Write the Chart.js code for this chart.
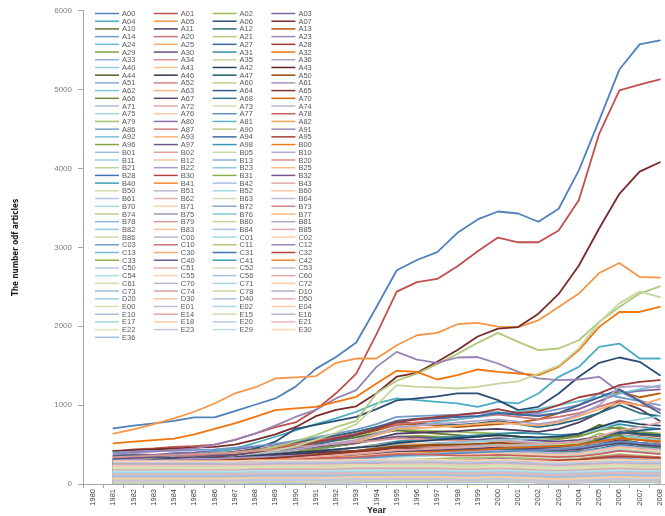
<!DOCTYPE html>
<html>
<head>
<meta charset="utf-8">
<script src="https://cdn.jsdelivr.net/npm/chart.js@4/dist/chart.umd.min.js"></script>
<style>
  html, body { margin: 0; padding: 0; background: #ffffff; overflow: hidden; }
  #wrap { position: relative; width: 676px; height: 516px; }
</style>
</head>
<body>
<div id="wrap"><canvas id="chart" width="676" height="516"></canvas></div>
<script>
// Publication years on the category axis (1980 has no counts)
const years = ['1980','1981','1982','1983','1984','1985','1986','1987','1988','1989','1990',
  '1991','1992','1993','1994','1995','1996','1997','1998','1999','2000',
  '2001','2002','2003','2004','2005','2006','2007','2008'];

// Subject codes, in legend order
const codesA = ['A00','A01','A02','A03','A04','A05','A06','A07','A10','A11','A12','A13',
  'A14','A20','A21','A23','A24','A25','A27','A28','A29','A30','A31','A32','A33','A34','A35','A36',
  'A40','A41','A42','A43','A44','A46','A47','A50','A51','A52','A60','A61','A62','A63','A64','A65',
  'A66','A67','A68','A70','A71','A72','A73','A74','A75','A76','A77','A78','A79','A80','A81','A82',
  'A86','A87','A90','A91','A92','A93','A94','A95','A96','A97','A98'];
const codesB = ['B00','B01','B02','B05','B10','B11','B12','B13','B20','B21','B22','B23','B25','B28',
  'B30','B31','B32','B40','B41','B42','B43','B50','B51','B52','B60','B61','B62','B63','B64',
  'B70','B71','B72','B73','B74','B75','B76','B77','B78','B79','B80','B81','B82','B83','B84','B85','B86'];
const codesC = ['C00','C01','C02','C03','C10','C11','C12','C13','C30','C31','C32','C33','C40','C41','C42',
  'C50','C51','C52','C53','C54','C55','C56','C60','C61','C70','C71','C72','C73','C74','C78'];
const codesDE = ['D10','D20','D30','D40','D50','E00','E01','E02','E04','E10','E14','E15','E16','E17',
  'E18','E20','E21','E22','E23','E29','E30','E36'];

// Number of articles per year, 1981-2008, one row per code
const valuesA = [
  [705,740,770,800,845,845,925,1005,1085,1235,1460,1610,1795,2245,2710,2840,2940,3185,3355,3455,3430,3325,3490,3980,4610,5255,5575,5625],
  [410,440,450,470,480,500,560,640,720,780,940,1150,1400,1900,2440,2560,2600,2760,2950,3125,3065,3065,3215,3600,4440,4990,5065,5130],
  [280,290,300,320,340,360,380,410,440,480,520,560,600,650,700,680,670,660,650,640,600,560,500,520,640,600,430,420],
  [360,380,370,390,400,420,440,470,500,540,580,620,660,720,800,820,830,850,860,900,880,870,900,950,1050,1150,1180,1200],
  [320,330,340,360,380,410,450,520,599,680,760,831,916,1021,1085,1063,1042,1021,979,1042,1021,1148,1359,1485,1739,1781,1591,1591],
  [640,692,760,831,916,1021,1148,1224,1338,1352,1367,1536,1591,1591,1760,1886,1916,2026,2042,1995,1990,2076,2245,2414,2675,2802,2625,2617],
  [300,310,320,330,350,370,400,450,536,700,750,800,850,950,1060,1085,1110,1148,1148,1063,937,979,1148,1359,1536,1604,1549,1380],
  [420,430,440,450,460,470,500,560,630,720,860,940,985,1150,1360,1410,1550,1700,1870,1970,1990,2160,2410,2770,3240,3680,3960,4080],
  [300,290,300,310,330,350,370,400,430,470,510,550,590,640,680,660,640,620,600,620,600,580,580,620,750,700,640,620],
  [200,210,220,240,260,280,300,330,360,400,440,480,520,580,640,650,660,670,690,700,680,660,700,780,900,1050,950,800],
  [350,360,350,370,380,390,410,440,470,520,570,610,660,720,780,770,760,750,770,800,760,720,760,820,900,1000,900,860],
  [280,300,310,330,350,370,400,430,460,500,540,580,620,680,750,760,740,720,740,760,780,820,900,1000,1100,1170,1100,1150],
  [400,410,420,420,430,440,460,480,510,550,590,640,690,760,850,860,870,880,900,910,880,900,950,1000,1150,1100,1050,1000],
  [300,310,330,340,360,380,400,430,470,510,550,590,640,700,760,780,800,820,850,880,850,820,850,900,980,1060,1000,950],
  [300,310,320,330,340,360,380,420,470,540,620,720,800,1150,1310,1400,1520,1650,1790,1916,1802,1697,1718,1823,2055,2245,2414,2507],
  [380,400,410,430,450,500,560,640,740,850,940,1085,1190,1485,1675,1578,1536,1604,1610,1528,1422,1338,1317,1325,1359,1169,1063,937],
  [150,160,170,190,210,230,260,290,330,380,430,480,540,620,700,740,780,820,850,900,920,950,1000,1050,1100,1150,1200,1250],
  [180,190,200,220,240,260,290,320,360,400,440,490,540,620,700,710,720,740,760,780,760,740,780,860,950,1030,1000,1080],
  [220,240,250,270,280,300,330,360,400,450,500,560,620,700,800,830,840,850,860,900,880,860,900,1000,1100,1200,1050,900],
  [250,260,280,300,320,340,370,400,440,480,530,580,630,700,780,820,850,873,900,950,900,920,1000,1100,1150,1253,1295,1317],
  [260,280,270,290,300,310,330,350,380,410,450,480,520,560,600,610,600,590,600,620,600,580,570,600,680,720,660,640],
  [320,330,340,330,340,360,370,390,410,440,470,500,520,560,600,590,580,570,560,580,570,550,540,560,600,650,620,600],
  [200,210,230,240,250,270,290,310,340,370,400,430,460,500,540,560,580,600,620,640,650,640,620,640,700,760,720,700],
  [515,536,557,575,630,700,768,852,937,958,979,1042,1105,1274,1435,1422,1325,1380,1452,1422,1401,1380,1485,1697,1992,2181,2181,2245],
  [180,190,200,210,220,240,260,280,300,330,360,390,420,460,500,510,520,530,540,560,540,520,510,520,560,600,560,540],
  [340,350,360,370,380,390,400,420,440,470,490,510,530,550,580,570,560,550,540,550,530,510,500,520,560,620,580,560],
  [250,260,270,280,300,320,340,380,420,480,560,650,760,1000,1253,1232,1224,1211,1232,1274,1300,1400,1500,1720,2050,2290,2440,2370],
  [250,260,270,280,300,320,340,370,400,440,480,520,560,640,720,740,760,780,800,820,790,760,800,880,1000,1230,1240,1230],
  [150,160,170,180,200,220,240,260,290,320,350,380,410,450,490,500,510,520,540,560,570,580,600,640,700,780,820,860],
  [240,250,260,280,290,300,320,340,370,400,420,440,460,490,520,510,500,490,500,520,510,490,480,500,560,640,600,580],
  [300,300,310,320,320,330,340,360,380,400,420,440,460,480,520,540,560,580,600,620,600,590,600,640,720,800,760,740],
  [220,230,220,230,240,250,270,290,310,330,350,380,400,430,460,470,480,470,460,480,470,450,440,460,520,560,520,500],
  [130,140,150,160,170,190,210,230,260,290,320,350,380,420,460,470,480,490,500,520,510,500,490,510,570,620,590,570],
  [280,290,300,300,310,320,330,340,360,380,400,410,420,440,460,450,440,430,420,430,420,400,390,400,440,480,450,430],
  [190,200,210,220,230,240,260,280,300,320,340,360,390,420,450,440,430,420,420,440,460,480,500,540,600,660,640,620],
  [260,270,280,290,290,300,310,320,340,360,380,400,420,450,480,490,500,500,510,520,500,480,460,470,500,540,500,480],
  [160,170,180,190,200,210,230,250,270,290,310,330,350,380,410,420,430,440,450,470,460,450,440,460,520,580,560,540],
  [230,240,250,250,260,270,280,300,320,340,360,380,400,420,450,460,470,480,490,500,480,460,450,470,540,600,560,520],
  [120,130,140,150,160,180,200,220,240,260,290,320,350,380,420,430,440,450,460,480,490,500,500,520,560,600,580,560],
  [300,310,300,310,320,320,330,340,350,360,370,380,390,400,420,410,400,390,380,390,380,370,360,370,400,430,410,400],
  [170,180,190,200,210,220,240,260,280,300,320,340,360,390,420,430,440,460,480,500,490,480,470,490,550,620,590,560],
  [210,220,230,240,250,260,270,290,310,330,350,370,390,410,440,440,430,420,410,420,410,390,380,390,430,470,440,420],
  [140,150,160,170,180,190,200,220,240,260,280,300,320,350,380,390,400,410,420,440,450,460,470,500,560,640,680,700],
  [250,260,260,270,280,290,300,310,330,350,370,390,410,430,460,450,440,430,440,460,450,440,430,450,500,550,520,500],
  [110,120,130,140,150,170,190,210,230,250,270,290,320,350,380,390,400,410,420,430,420,410,400,420,600,620,480,460],
  [200,200,210,220,230,240,250,270,290,310,330,350,370,390,410,420,430,440,450,460,450,440,430,440,480,520,500,480],
  [180,190,200,200,210,220,230,240,260,280,300,320,340,360,390,400,410,420,430,440,430,410,400,410,450,500,470,450],
  [260,260,270,270,280,280,290,300,310,320,330,340,350,370,390,400,410,420,430,450,460,470,480,500,540,580,560,540],
  [150,160,160,170,180,190,200,210,230,250,270,290,310,330,360,370,380,390,400,410,400,390,380,390,420,460,430,410],
  [230,240,240,250,250,260,270,280,300,320,340,360,380,400,430,440,450,460,470,490,500,510,520,540,600,680,720,780],
  [100,110,120,130,140,150,170,190,210,230,250,270,290,320,350,360,370,380,390,400,390,380,370,380,420,450,430,410],
  [190,200,200,210,220,220,230,240,250,270,290,310,330,350,370,380,390,400,410,420,410,400,390,400,440,480,460,440],
  [130,140,150,160,170,180,190,200,220,240,260,280,300,320,340,350,360,370,380,390,380,370,360,370,400,440,410,390],
  [210,210,220,230,230,240,250,260,270,290,310,330,350,370,390,390,380,380,380,390,380,370,370,380,420,460,440,420],
  [160,160,170,180,190,200,210,220,240,260,280,300,320,340,360,370,380,390,400,410,420,430,440,460,500,540,520,500],
  [240,250,250,260,260,270,280,290,300,310,320,330,340,360,380,380,370,360,360,370,360,350,340,350,380,420,400,380],
  [120,130,130,140,150,160,170,180,190,200,220,240,260,280,300,310,320,330,330,340,330,320,310,320,350,380,360,340],
  [90,100,100,110,120,130,140,150,160,180,200,220,240,260,280,290,300,300,310,320,310,300,290,300,330,360,340,330],
  [150,150,160,160,170,170,180,190,200,210,220,230,240,260,280,280,270,270,270,280,270,260,250,260,290,320,300,290],
  [70,80,90,100,110,120,130,140,150,160,180,200,220,240,260,270,280,290,300,310,300,290,280,290,320,350,330,320],
  [180,180,190,190,200,200,210,210,220,230,240,250,260,270,290,290,290,280,280,290,280,270,260,270,300,330,310,300],
  [100,100,110,120,120,130,140,150,160,170,180,190,200,220,240,250,260,270,280,290,300,310,300,310,340,370,350,340],
  [130,140,140,150,150,160,160,170,180,190,200,210,220,240,260,260,250,250,240,250,240,230,220,230,260,290,270,260],
  [60,70,80,90,100,110,120,130,140,150,160,170,190,210,230,240,250,260,270,280,270,260,250,260,290,320,300,290],
  [200,200,210,210,220,220,230,240,250,260,270,280,290,300,310,310,300,300,290,290,280,260,180,30,40,120,170,210],
  [110,120,120,130,140,140,150,160,170,180,190,200,210,230,250,260,260,260,270,280,270,260,250,260,280,300,290,280],
  [160,160,160,170,170,180,180,190,200,210,220,230,240,250,260,260,260,250,250,260,250,240,230,240,260,280,270,260],
  [80,90,90,100,110,120,130,140,150,160,170,180,190,200,220,230,240,250,260,270,280,290,300,310,330,350,340,330],
  [140,140,150,150,160,160,170,170,180,190,200,210,220,230,250,250,240,240,230,240,230,220,210,220,240,260,250,240],
  [100,110,110,120,120,130,130,140,150,160,170,180,190,210,230,240,240,240,250,260,250,240,230,240,270,300,280,270],
  [170,170,180,180,180,190,190,200,200,210,220,230,240,250,260,260,250,250,250,260,250,240,240,250,270,290,280,270]
];
const valuesB = [
  [90,90,100,100,110,110,120,130,140,150,160,170,180,190,210,220,220,230,230,240,230,220,210,220,250,280,260,250],
  [120,120,130,130,140,150,150,160,170,180,190,200,210,220,240,240,240,230,230,240,240,230,230,240,260,290,270,260],
  [60,60,70,80,90,100,110,120,130,140,150,160,170,190,210,220,230,240,250,260,250,240,230,240,270,300,280,270],
  [150,150,150,160,160,160,170,170,180,180,190,200,210,220,230,230,230,220,220,230,220,210,200,210,230,250,240,230],
  [110,110,120,120,130,130,140,140,150,160,170,180,190,200,210,220,220,220,230,240,230,220,210,220,240,260,250,240],
  [80,80,90,90,100,110,110,120,130,140,150,160,170,180,200,210,210,220,220,230,220,210,200,210,230,250,240,230],
  [130,130,130,140,140,150,150,160,160,170,180,190,200,210,220,220,210,210,210,220,210,200,190,200,220,240,230,220],
  [70,70,80,80,90,100,100,110,120,130,140,150,160,170,190,200,200,210,210,220,210,200,190,200,220,240,230,220],
  [190,190,190,200,200,200,200,210,210,220,220,230,230,240,250,250,240,230,230,230,220,210,200,200,220,240,230,220],
  [100,100,100,110,110,120,120,130,140,150,160,170,180,190,200,200,200,200,200,210,200,190,180,190,210,230,220,210],
  [50,60,60,70,80,90,100,110,120,130,140,150,160,170,180,190,200,200,210,210,200,190,180,190,210,230,220,210],
  [140,140,140,150,150,150,160,160,170,170,180,180,190,200,210,210,200,200,190,200,190,180,170,180,200,220,210,200],
  [90,90,100,100,100,110,110,120,120,130,140,150,160,170,180,190,190,190,200,200,190,180,170,180,200,220,210,200],
  [120,120,120,130,130,130,140,140,150,150,160,160,170,180,190,190,190,180,180,190,180,170,160,170,190,210,200,190],
  [60,70,70,80,80,90,90,100,110,120,130,140,150,160,170,180,180,190,190,200,190,180,170,180,200,220,210,200],
  [160,160,160,160,170,170,170,170,180,180,180,190,190,200,210,210,200,200,190,190,180,170,160,170,190,210,200,190],
  [80,80,90,90,90,100,100,110,110,120,130,140,150,160,170,170,170,170,180,180,170,160,150,160,180,200,190,180],
  [110,110,110,120,120,120,130,130,140,140,150,150,160,170,180,180,180,170,170,180,170,160,150,160,180,200,190,180],
  [50,50,60,60,70,70,80,90,100,110,120,130,140,150,160,170,170,180,180,190,180,170,160,170,190,210,200,190],
  [130,130,130,130,140,140,140,150,150,150,160,160,170,170,180,180,170,170,160,170,160,150,140,150,170,190,180,170],
  [70,70,80,80,80,90,90,100,100,110,120,130,140,150,160,160,160,160,170,170,160,150,140,150,170,190,180,170],
  [100,100,100,100,110,110,110,120,120,130,130,140,140,150,160,160,160,150,150,160,150,140,130,140,160,180,170,160],
  [40,50,50,60,60,70,70,80,90,100,110,120,130,140,150,150,160,160,160,170,160,150,140,150,170,190,180,170],
  [120,120,120,120,120,130,130,130,140,140,140,150,150,160,170,170,160,160,150,160,150,140,130,140,160,170,160,150],
  [60,60,70,70,70,80,80,90,90,100,110,120,130,140,150,150,150,150,150,160,150,140,130,140,160,180,170,160],
  [90,90,90,90,100,100,100,110,110,120,120,130,130,140,150,150,150,140,140,150,140,130,120,130,150,170,160,150],
  [40,40,50,50,60,60,70,70,80,90,100,110,120,130,140,140,140,150,150,150,140,130,120,130,150,170,160,150],
  [110,110,110,110,110,120,120,120,130,130,130,140,140,150,160,160,150,150,140,150,140,130,120,130,150,160,150,140],
  [50,50,60,60,60,70,70,80,80,90,100,110,120,130,140,140,140,140,140,150,140,130,120,130,140,160,150,140],
  [80,80,80,80,90,90,90,100,100,110,110,120,120,130,140,140,140,130,130,140,130,120,110,120,140,150,140,130],
  [30,40,40,50,50,60,60,70,70,80,90,100,110,120,130,130,130,130,140,140,130,120,110,120,140,150,140,130],
  [100,100,100,100,100,110,110,110,110,120,120,120,130,130,140,140,130,130,130,130,120,110,100,110,130,140,130,120],
  [60,60,60,70,70,70,80,80,90,90,100,100,110,120,130,130,130,130,130,130,120,110,100,110,130,140,130,120],
  [70,70,70,70,80,80,80,90,90,90,100,100,110,110,120,120,120,120,120,130,120,110,100,110,120,140,130,120],
  [30,30,40,40,50,50,60,60,70,70,80,90,100,110,120,120,120,120,120,120,110,100,90,100,120,130,120,110],
  [90,90,90,90,90,90,100,100,100,100,110,110,110,120,120,120,120,110,110,120,110,100,90,100,110,130,120,110],
  [40,40,40,50,50,50,60,60,70,70,80,80,90,100,110,110,110,110,110,120,110,100,90,100,110,120,110,100],
  [70,70,70,70,70,80,80,80,80,90,90,90,100,100,110,110,100,100,100,110,100,90,80,90,100,120,110,100],
  [20,20,30,30,30,40,40,50,50,60,60,70,80,90,100,100,100,100,100,110,100,90,80,90,100,110,100,90],
  [80,80,80,80,80,80,80,90,90,90,90,90,100,100,100,100,100,90,90,100,90,80,70,80,90,110,100,90],
  [50,50,50,50,60,60,60,60,70,70,70,80,80,90,90,90,90,90,90,100,90,80,70,80,90,100,90,80],
  [30,30,30,40,40,40,40,50,50,60,60,70,70,80,90,90,90,90,90,90,80,70,60,70,80,100,90,80],
  [60,60,60,60,60,60,70,70,70,70,70,80,80,80,90,90,80,80,80,90,80,70,60,70,80,90,80,70],
  [10,10,20,20,20,30,30,30,40,40,50,50,60,70,80,80,80,80,80,90,80,70,60,70,80,90,80,70],
  [70,70,70,70,70,70,70,70,80,80,80,80,80,80,90,90,80,80,70,80,70,60,50,60,70,80,70,60],
  [40,40,40,40,40,50,50,50,50,60,60,60,70,70,80,80,80,80,80,80,70,60,50,60,70,80,70,60]
];
const valuesC = [
  [20,20,20,30,30,30,30,40,40,40,50,50,60,60,70,70,70,70,70,80,70,60,50,60,70,80,70,60],
  [50,50,50,50,50,50,60,60,60,60,60,60,70,70,70,70,70,60,60,70,60,50,40,50,60,70,60,50],
  [30,30,30,30,30,40,40,40,40,50,50,50,60,60,60,60,60,60,60,70,60,50,40,50,60,70,60,50],
  [10,10,10,10,20,20,20,20,30,30,30,40,40,50,60,60,60,60,60,60,50,40,30,40,50,60,50,40],
  [60,60,60,60,60,60,60,60,60,60,60,60,60,60,70,70,60,60,60,60,50,40,30,40,50,60,50,40],
  [40,40,40,40,40,40,40,40,50,50,50,50,50,50,60,60,60,50,50,60,50,40,30,40,50,60,50,40],
  [20,20,20,20,20,30,30,30,30,30,40,40,40,50,50,50,50,50,50,50,40,40,30,40,50,60,50,40],
  [30,30,30,30,30,30,30,30,40,40,40,40,40,40,50,50,50,40,40,50,40,30,20,30,40,50,40,30],
  [10,10,10,10,10,10,20,20,20,20,30,30,30,40,40,40,40,40,40,40,30,30,20,30,40,50,40,30],
  [50,50,50,50,50,50,50,50,50,50,60,60,70,80,90,90,100,100,100,100,100,100,100,60,50,60,70,70],
  [20,20,20,20,20,20,20,30,30,30,30,30,40,40,40,40,40,40,40,40,40,30,30,30,40,40,40,30],
  [40,40,40,40,40,40,40,40,40,40,40,40,50,50,50,50,50,50,50,50,40,40,30,30,40,50,40,40],
  [10,10,10,10,10,10,10,10,20,20,20,20,20,30,30,30,30,30,30,30,30,20,20,20,30,30,30,20],
  [30,30,30,30,30,30,30,30,30,30,30,30,30,30,40,40,40,30,30,40,30,30,20,30,30,40,30,30],
  [20,20,20,20,20,20,20,20,20,20,20,30,30,30,30,30,30,30,30,30,30,20,20,20,30,30,30,20],
  [5,5,5,10,10,10,10,10,10,10,20,20,20,20,20,20,20,20,20,30,20,20,10,20,20,30,20,20],
  [60,60,60,60,60,60,60,70,70,70,70,70,70,80,80,80,80,80,80,80,70,70,60,70,80,90,80,80],
  [90,90,90,90,90,90,90,90,90,90,100,100,100,100,110,110,110,100,100,110,100,90,80,90,100,110,100,100],
  [110,110,110,110,110,110,110,110,110,120,120,120,120,130,130,130,130,120,120,130,120,110,100,110,120,130,120,120],
  [70,70,70,70,70,70,70,70,70,80,80,80,80,90,90,90,90,80,80,90,80,70,60,70,80,90,80,80],
  [130,130,130,130,130,130,130,130,130,130,140,140,140,150,150,150,150,140,140,150,140,130,120,130,140,150,140,140],
  [100,100,100,100,100,100,100,100,100,100,110,110,110,110,120,120,120,110,110,120,110,100,90,100,110,120,110,110],
  [150,150,150,150,150,150,150,150,160,160,160,160,170,170,170,170,170,160,160,170,160,150,140,150,160,170,160,160],
  [80,80,80,80,80,80,80,80,80,80,90,90,90,90,100,100,100,90,90,100,90,80,70,80,90,100,90,90],
  [120,120,120,120,120,120,120,120,120,130,130,130,130,140,140,140,140,130,130,140,130,120,110,120,130,140,130,130],
  [170,170,170,170,170,170,170,170,170,180,180,180,180,190,190,190,190,180,180,190,180,170,160,170,180,190,180,180],
  [60,60,60,60,60,60,70,70,70,70,70,80,80,80,90,90,90,80,80,90,80,70,60,70,80,90,80,80],
  [100,100,100,100,100,100,100,110,110,110,110,120,120,120,130,130,130,120,120,130,120,110,100,110,120,130,120,120],
  [140,140,140,140,140,140,140,140,150,150,150,150,160,160,160,160,160,150,150,160,150,140,130,140,150,160,150,150],
  [40,40,40,40,50,50,50,50,50,60,60,60,60,70,70,70,70,70,70,70,60,60,50,60,70,80,70,70]
];
const valuesDE = [
  [190,190,190,190,190,190,190,190,200,200,200,200,210,210,210,210,210,200,200,210,200,190,180,190,200,210,200,200],
  [110,110,110,110,110,110,120,120,120,120,120,130,130,130,140,140,140,130,130,140,130,120,110,120,130,140,130,130],
  [160,160,160,160,160,160,160,170,170,170,170,170,180,180,180,180,180,170,170,180,170,160,150,160,170,180,170,170],
  [80,80,80,80,80,90,90,90,90,90,100,100,100,110,110,110,110,100,100,110,100,90,80,90,100,110,100,100],
  [30,30,30,30,30,30,30,40,40,40,40,40,50,50,50,50,50,50,50,50,50,40,40,40,50,60,50,50],
  [210,210,210,210,210,210,220,220,220,220,230,230,230,240,240,240,240,230,230,240,230,220,210,220,230,240,230,230],
  [130,130,130,130,130,140,140,140,140,140,150,150,150,160,160,160,160,150,150,160,150,140,130,140,150,160,150,150],
  [50,50,50,50,50,50,60,60,60,60,60,70,70,70,80,80,80,70,70,80,70,60,50,60,70,80,70,70],
  [230,230,230,230,230,230,230,240,240,240,240,250,250,250,260,260,260,250,250,260,250,240,230,240,250,260,250,250],
  [90,90,90,90,90,90,100,100,100,100,100,110,110,110,120,120,120,110,110,120,110,100,90,100,110,120,110,110],
  [180,180,180,180,180,180,180,190,190,190,190,190,200,200,200,200,200,190,190,200,190,180,170,180,190,200,190,190],
  [20,20,20,20,20,20,20,30,30,30,30,30,40,40,40,40,40,40,40,40,40,30,30,30,40,50,40,40],
  [250,250,250,250,250,250,250,250,260,260,260,260,270,270,270,270,270,260,260,270,260,250,240,250,260,270,260,260],
  [140,140,140,140,140,140,150,150,150,150,150,160,160,160,170,170,170,160,160,170,160,150,140,150,160,170,160,160],
  [70,70,70,70,70,70,70,80,80,80,80,80,90,90,90,90,90,80,80,90,80,70,60,70,80,90,80,80],
  [270,270,270,270,270,270,270,280,280,280,280,280,290,290,290,290,290,280,280,290,280,270,260,270,280,290,280,280],
  [120,120,120,120,120,120,120,130,130,130,130,130,140,140,140,140,140,130,130,140,130,120,110,120,130,140,130,130],
  [200,200,200,200,200,200,200,210,210,210,210,210,220,220,220,220,220,210,210,220,210,200,190,200,210,220,210,210],
  [40,40,40,40,40,40,40,50,50,50,50,50,60,60,60,60,60,50,50,60,50,40,30,40,50,60,50,50],
  [160,160,160,160,160,160,160,170,170,170,170,170,180,180,180,180,180,170,170,180,170,160,150,160,170,180,170,170],
  [290,290,290,290,290,290,290,300,300,300,300,300,310,310,310,310,310,300,300,310,300,290,280,290,300,310,300,300],
  [100,100,100,100,100,100,100,110,110,110,110,110,120,120,120,120,120,110,110,120,110,100,90,100,110,120,110,110]
];

// Office-style series colours: six accents, then lighter / darker variants
const accents = ['#4F81BD', '#C0504D', '#9BBB59', '#8064A2', '#4BACC6', '#F79646'];
const shades = [
  [1, 0], [0.6, 0], [0.8, 0.2], [0.8, 0], [0.6, 0.4], [0.5, 0], [0.7, 0.3], [0.7, 0], [0.5, 0.5],
  [0.9, 0.1], [0.75, 0.25], [0.85, 0], [0.55, 0.45], [0.65, 0.35], [0.9, 0], [0.5, 0.5],
  [0.45, 0.55], [0.7, 0.3], [0.6, 0.4], [0.5, 0.5], [0.8, 0.2], [0.9, 0], [0.45, 0.55],
  [0.5, 0.5], [0.55, 0.45], [0.45, 0.55], [0.5, 0.5], [0.4, 0.6], [0.5, 0.5]
];

function hexToHsl(hex) {
  const r = parseInt(hex.slice(1, 3), 16) / 255;
  const g = parseInt(hex.slice(3, 5), 16) / 255;
  const b = parseInt(hex.slice(5, 7), 16) / 255;
  const mx = Math.max(r, g, b), mn = Math.min(r, g, b);
  let h = 0, s = 0;
  const l = (mx + mn) / 2;
  if (mx !== mn) {
    const d = mx - mn;
    s = l > 0.5 ? d / (2 - mx - mn) : d / (mx + mn);
    if (mx === r) h = (g - b) / d + (g < b ? 6 : 0);
    else if (mx === g) h = (b - r) / d + 2;
    else h = (r - g) / d + 4;
    h /= 6;
  }
  return [h, s, l];
}
function hslToCss(h, s, l) {
  let r, g, b;
  if (s === 0) { r = g = b = l; }
  else {
    const q = l < 0.5 ? l * (1 + s) : l + s - l * s;
    const p = 2 * l - q;
    const f = t => {
      if (t < 0) t += 1;
      if (t > 1) t -= 1;
      if (t < 1 / 6) return p + (q - p) * 6 * t;
      if (t < 1 / 2) return q;
      if (t < 2 / 3) return p + (q - p) * (2 / 3 - t) * 6;
      return p;
    };
    r = f(h + 1 / 3); g = f(h); b = f(h - 1 / 3);
  }
  return 'rgb(' + Math.round(r * 255) + ',' + Math.round(g * 255) + ',' + Math.round(b * 255) + ')';
}
function seriesColor(i) {
  const [h, s, l] = hexToHsl(accents[i % 6]);
  const [mod, off] = shades[Math.floor(i / 6) % shades.length];
  return hslToCss(h, s, Math.min(1, l * mod + off));
}

const codes = codesA.concat(codesB, codesC, codesDE);
const rows = valuesA.concat(valuesB, valuesC, valuesDE);

const datasets = codes.map((code, i) => ({
  label: code,
  data: [null].concat(rows[i]),
  borderColor: seriesColor(i),
  backgroundColor: seriesColor(i),
  borderWidth: 1.8,
  pointRadius: 0,
  pointHoverRadius: 0,
  tension: 0,
  fill: false,
  spanGaps: false,
  borderJoinStyle: 'round',
  borderCapStyle: 'round',
  order: -i
}));

// Four-column legend placed in the upper left of the plot area
const gridLegend = {
  id: 'gridLegend',
  afterDatasetsDraw(chart) {
    const { ctx, chartArea } = chart;
    const x0 = chartArea.left + 12;
    const y0 = chartArea.top + 2.7;
    ctx.save();
    ctx.font = '7.5px "Liberation Sans", Arial, sans-serif';
    ctx.textBaseline = 'middle';
    ctx.textAlign = 'left';
    chart.data.datasets.forEach((ds, i) => {
      const col = i % 4, row = Math.floor(i / 4);
      const x = x0 + col * 58.8;
      const y = y0 + row * 7.71;
      ctx.strokeStyle = ds.borderColor;
      ctx.lineWidth = 1.5;
      ctx.beginPath();
      ctx.moveTo(x, y);
      ctx.lineTo(x + 24, y);
      ctx.stroke();
      ctx.fillStyle = '#595959';
      ctx.fillText(ds.label, x + 27, y + 0.5);
    });
    ctx.restore();
  }
};

new Chart(document.getElementById('chart'), {
  type: 'line',
  data: { labels: years, datasets: datasets },
  plugins: [gridLegend],
  options: {
    responsive: false,
    animation: false,
    events: [],
    layout: { padding: { top: 10, right: 6, bottom: 0, left: 0 } },
    plugins: {
      legend: { display: false },
      tooltip: { enabled: false }
    },
    scales: {
      x: {
        type: 'category',
        offset: true,
        grid: {
          display: true, offset: true, drawOnChartArea: false, drawTicks: true,
          tickLength: 4, color: '#a6a6a6'
        },
        border: { display: true, color: '#a6a6a6', width: 1 },
        ticks: {
          autoSkip: false, minRotation: 90, maxRotation: 90, padding: 1,
          color: '#404040',
          font: { family: '"Liberation Sans", Arial, sans-serif', size: 7.5 }
        },
        title: {
          display: true, text: 'Year', color: '#262626',
          font: { family: '"Liberation Sans", Arial, sans-serif', size: 9, weight: 'bold' },
          padding: { top: 0, bottom: 0 }
        },
        afterFit(scale) { scale.height = 32; }
      },
      y: {
        min: 0, max: 6000,
        grid: {
          display: true, drawOnChartArea: false, drawTicks: true,
          tickLength: 5, color: '#a6a6a6'
        },
        border: { display: true, color: '#a6a6a6', width: 1 },
        ticks: {
          stepSize: 1000, padding: 6, color: '#7f7f7f',
          font: { family: '"Liberation Sans", Arial, sans-serif', size: 8 },
          callback: value => String(value)
        },
        title: {
          display: true, text: 'The number odf articles', color: '#1a1a1a',
          font: { family: '"Liberation Sans Narrow", "DejaVu Sans Condensed", Arial, sans-serif', size: 8, weight: 'bold' },
          padding: { top: 11, bottom: 0 }
        },
        afterFit(scale) { scale.width = 83; }
      }
    }
  }
});
</script>
</body>
</html>
